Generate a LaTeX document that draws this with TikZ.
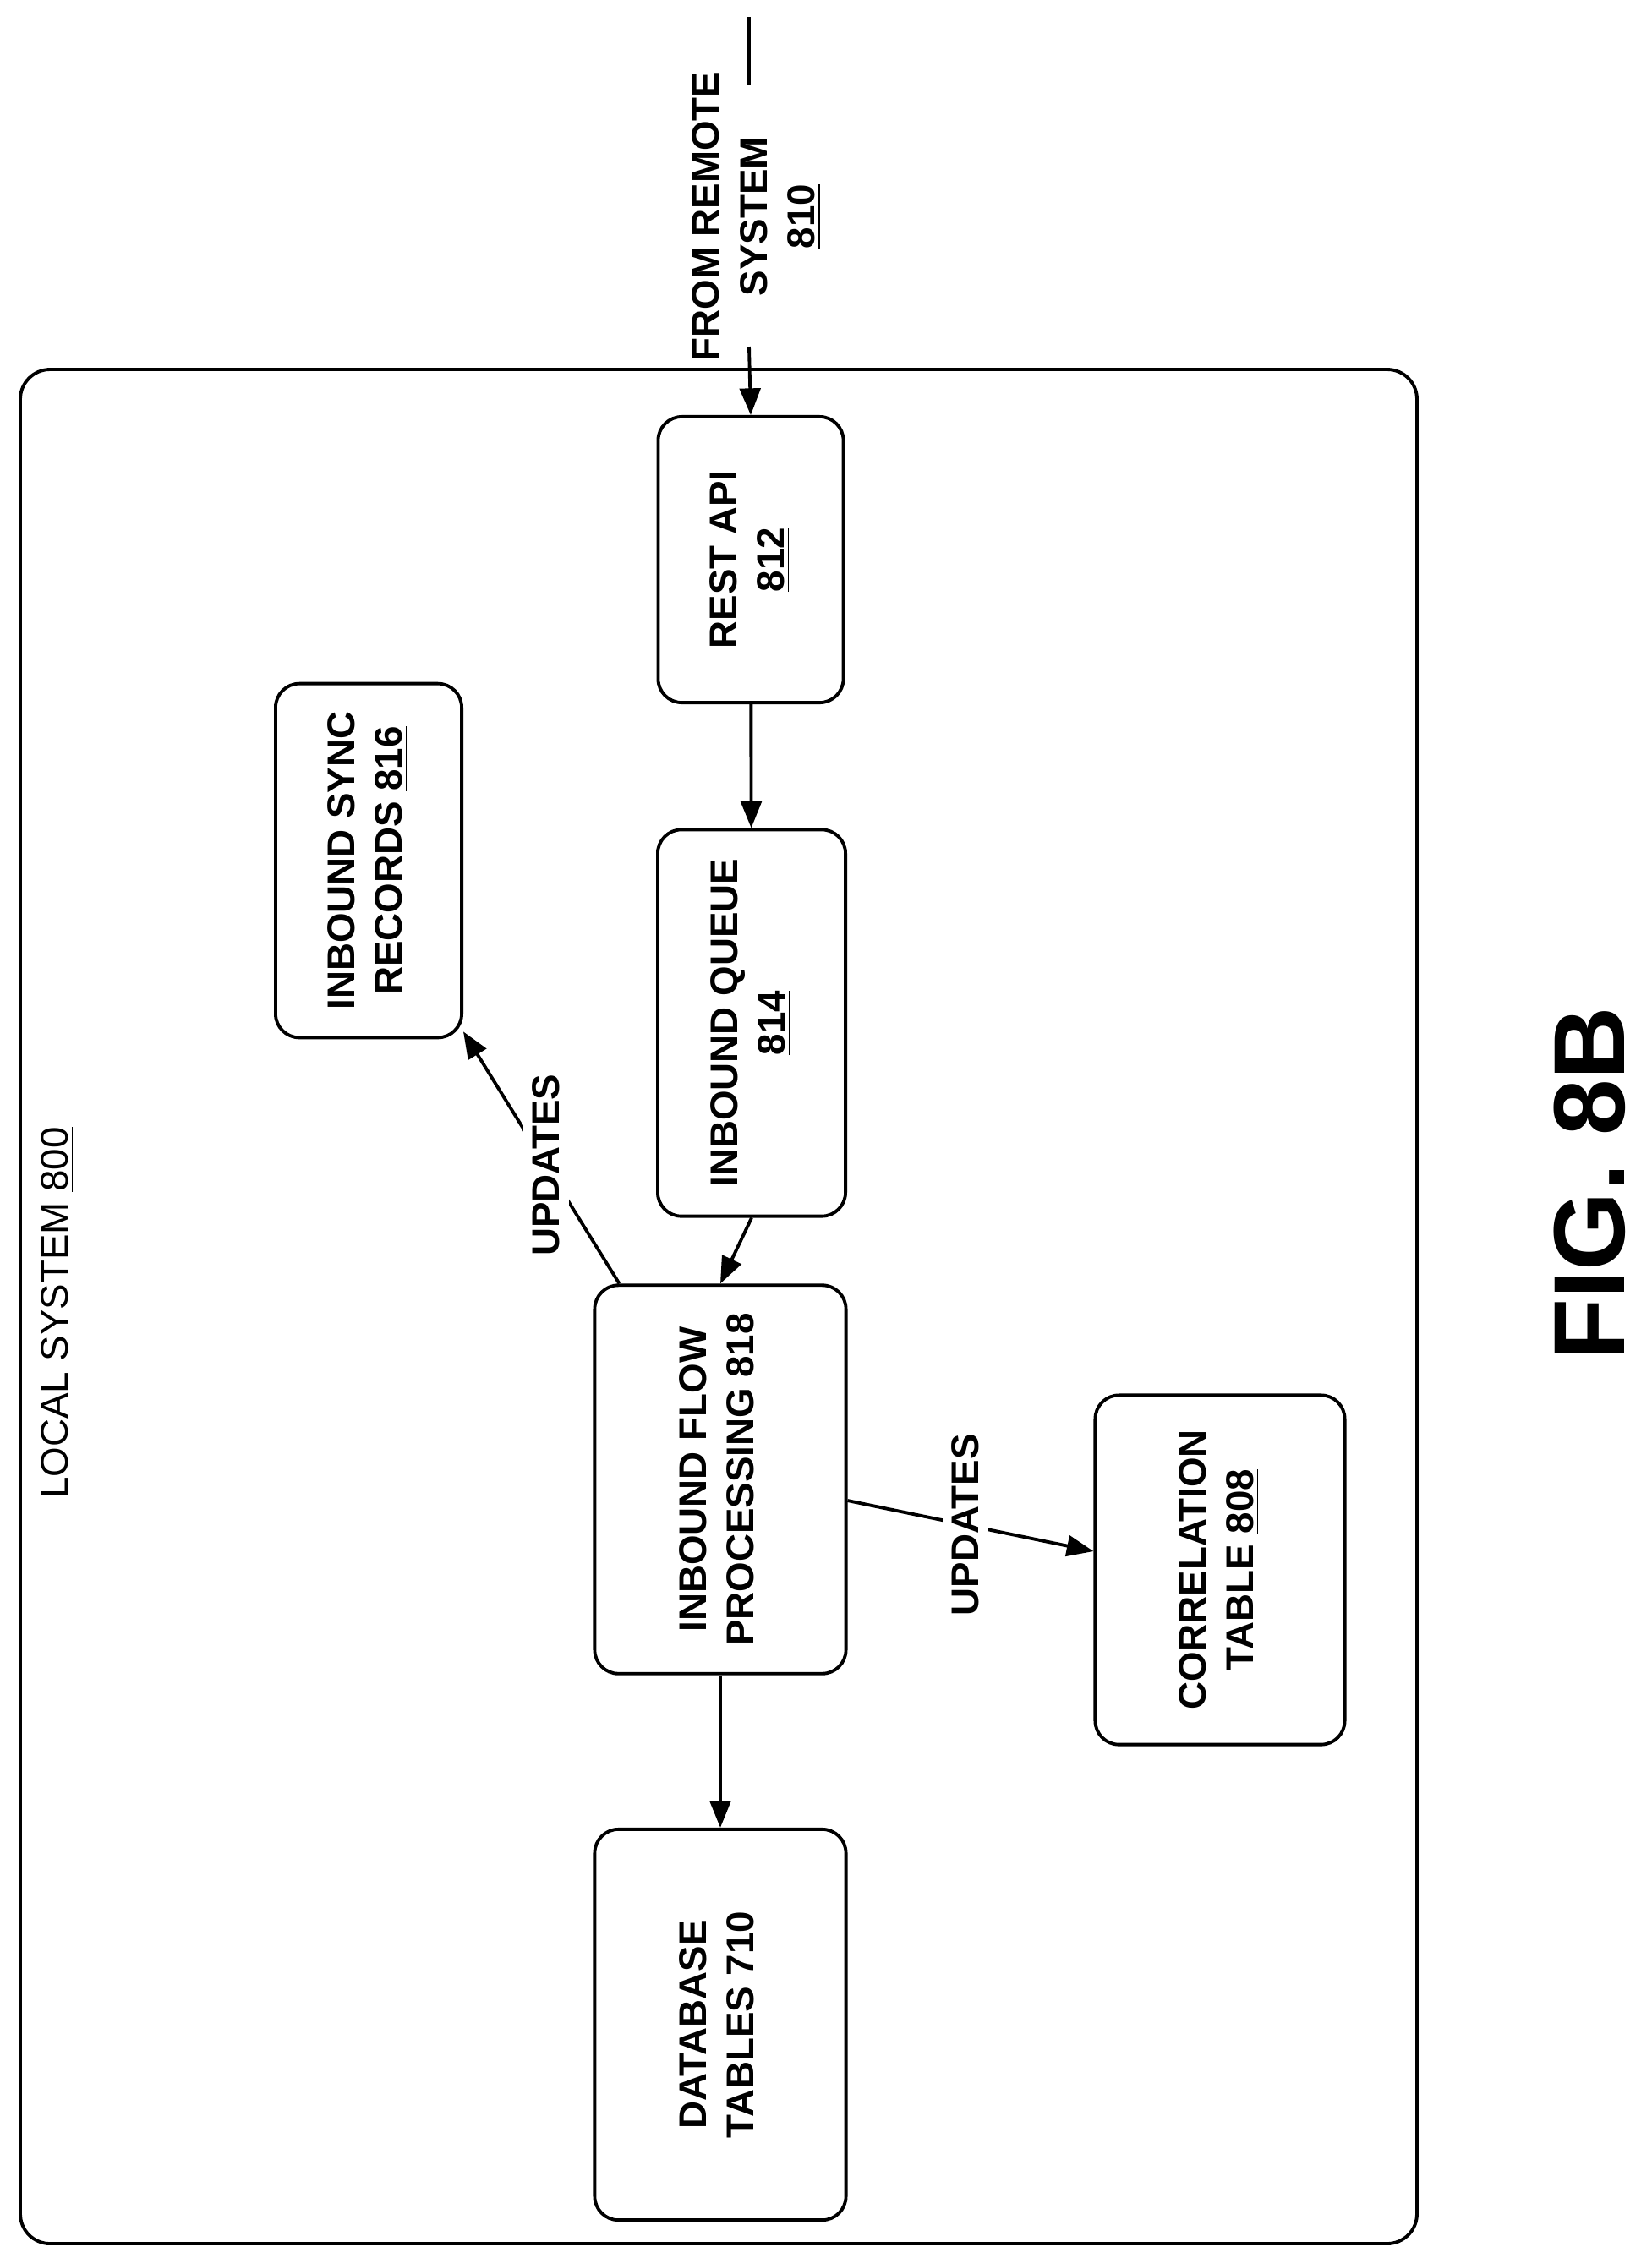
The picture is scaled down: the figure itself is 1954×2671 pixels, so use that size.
\documentclass[tikz,border=0pt]{standalone}
\usepackage{fontspec}
\setmainfont{Liberation Sans}
\usepackage{graphicx}
\usetikzlibrary{arrows.meta}

\begin{document}
\begin{tikzpicture}[x=0.01cm, y=-0.01cm,
        box_node/.style={draw, rounded corners=8pt, line width=1.1pt, font=\bfseries\fontsize{13}{16}\selectfont},
        flow_line/.style={line width=1.1pt, -{Triangle[length=9pt, width=7pt]}},
        label_node/.style={font=\fontsize{13}{16}\selectfont\bfseries, fill=white, inner sep=3pt}
        ]
            \useasboundingbox (0,0) rectangle (1954,2671);
            % frame
            \draw[line width=1.1pt, rounded corners=10pt] (24,437) rectangle (1676,2654);
            \node[label_node] (local) at (68,1553) {\rotatebox{90}{\mdseries LOCAL SYSTEM \underline{800}}};

            % blocks
            \node[box_node, minimum width=2.19cm, minimum height=3.38cm] (rest)  at (888,662)   {\rotatebox{90}{\begin{tabular}{c}REST API\\\underline{812}\end{tabular}}};
            \node[box_node, minimum width=2.22cm, minimum height=4.57cm] (queue) at (889,1210)  {\rotatebox{90}{\begin{tabular}{c}INBOUND QUEUE\\\underline{814}\end{tabular}}};
            \node[box_node, minimum width=2.20cm, minimum height=4.12cm] (sync)  at (436,1018)  {\rotatebox{90}{\begin{tabular}{c}INBOUND SYNC\\RECORDS \underline{816}\end{tabular}}};
            \node[box_node, minimum width=2.97cm, minimum height=4.11cm] (flow)  at (852,1750)  {\rotatebox{90}{\begin{tabular}{c}INBOUND FLOW\\PROCESSING \underline{818}\end{tabular}}};
            \node[box_node, minimum width=2.95cm, minimum height=4.13cm] (corr)  at (1443,1857) {\rotatebox{90}{\begin{tabular}{c}CORRELATION\\TABLE \underline{808}\end{tabular}}};
            \node[box_node, minimum width=2.97cm, minimum height=4.62cm] (db)    at (852,2395)  {\rotatebox{90}{\begin{tabular}{c}DATABASE\\TABLES \underline{710}\end{tabular}}};

            % input
            \coordinate (src) at (886,20);
            \coordinate (src_end) at (886,100);
            \coordinate (src_in) at (886,410);
            \node[label_node, fill=none] (remote) at (896,256) {\rotatebox{90}{\begin{tabular}{c}FROM REMOTE\\SYSTEM\\\underline{810}\end{tabular}}};
            \draw[line width=1.1pt] (src) -- (src_end);
            \draw[flow_line] (src_in) -- (rest.north);

            % lines
            \draw[flow_line] (rest) -- (queue);
            \draw[flow_line] (queue.south) -- (flow.north);
            \draw[flow_line] ([xshift=0.31cm]flow.north west) -- node[label_node, pos=0.47] (upd_a) {\rotatebox{90}{UPDATES}} ([yshift=0.09cm]sync.south east);
            \draw[flow_line] ([yshift=-0.25cm]flow.east) -- node[label_node, pos=0.48] (upd_b) {\rotatebox{90}{UPDATES}} ([yshift=0.22cm]corr.west);
            \draw[flow_line] (flow) -- (db);

            % caption
            \node[font=\bfseries\fontsize{34}{40}\selectfont] (fig) at (1880,1400) {\rotatebox{90}{FIG. 8B}};
        \end{tikzpicture}
\end{document}
